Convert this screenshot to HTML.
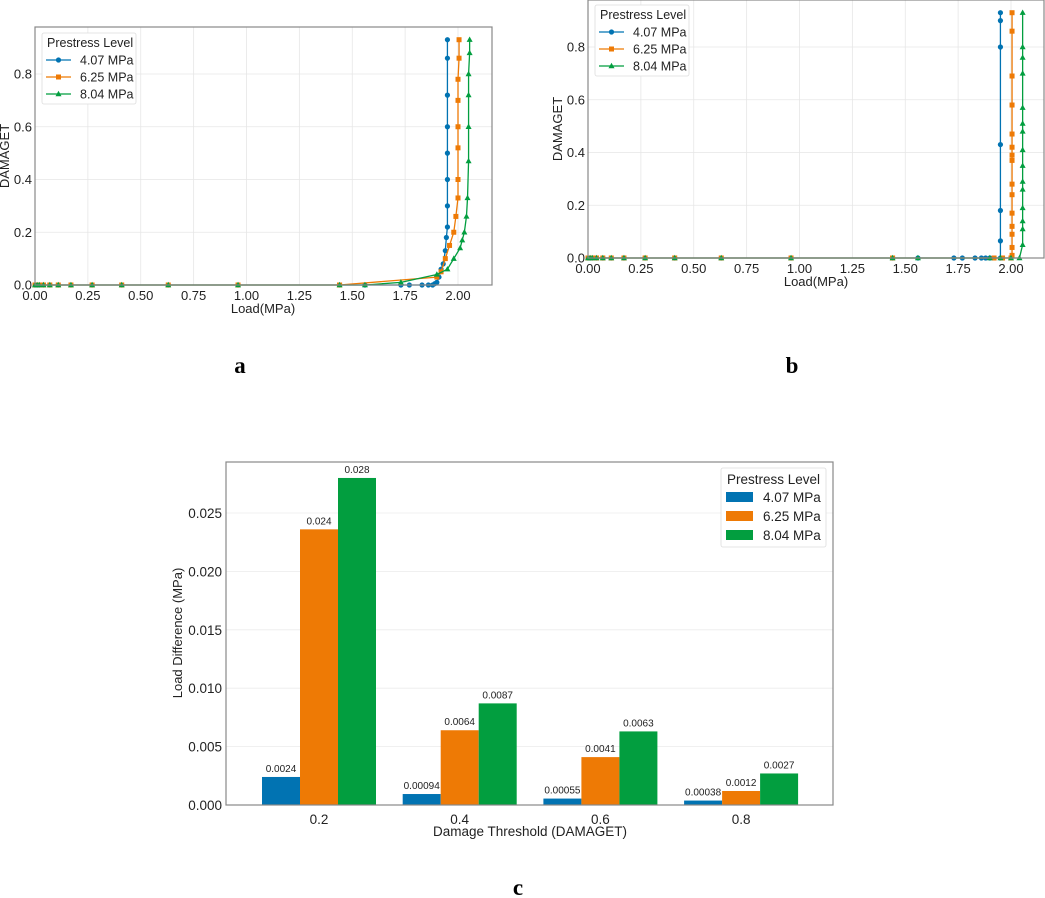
<!DOCTYPE html>
<html><head><meta charset="utf-8"><style>
body{margin:0;background:#fff;width:1045px;height:898px;overflow:hidden}
svg{position:absolute;left:0;top:0}
text{font-family:"Liberation Sans",sans-serif;fill:#222}
.cap{font-family:"Liberation Serif",serif;font-weight:bold;font-size:23px;fill:#000}
</style></head><body>
<svg id="fig" width="1045" height="898">
<text class="cap" x="240" y="373" text-anchor="middle">a</text>
<text class="cap" x="792" y="373" text-anchor="middle">b</text>
<text class="cap" x="518" y="895" text-anchor="middle">c</text>
</svg>
<script>
const seriesNames=["4.07 MPa","6.25 MPa","8.04 MPa"];
const colors=["#0173b2","#ee7a05","#029e3f"];
const zeroX=[0,0.01,0.02,0.04,0.07,0.11,0.17,0.27,0.41,0.63,0.96,1.44];
// panel a
const aBlueX=[1.56,1.73,1.77,1.83,1.86,1.88,1.89,1.90,1.91,1.92,1.93,1.94,1.945,1.95,1.95,1.95,1.95,1.95,1.95,1.95,1.95];
const aBlueY=[0,0,0,0,0,0,0.005,0.01,0.03,0.06,0.08,0.13,0.18,0.22,0.3,0.4,0.5,0.6,0.72,0.86,0.93];
const aOrangeX=[1.44,1.90,1.92,1.94,1.96,1.98,1.99,2.0,2.0,2.0,2.0,2.0,2.0,2.005,2.005];
const aOrangeY=[0,0.03,0.05,0.1,0.15,0.2,0.26,0.33,0.4,0.52,0.6,0.7,0.78,0.86,0.93];
const aGreenX=[1.56,1.73,1.90,1.95,1.98,2.01,2.02,2.03,2.04,2.045,2.05,2.05,2.05,2.05,2.055,2.055];
const aGreenY=[0,0.01,0.04,0.06,0.1,0.14,0.17,0.2,0.26,0.33,0.47,0.6,0.72,0.8,0.88,0.93];
// panel b
const bBlueX=[1.56,1.73,1.77,1.83,1.86,1.88,1.90,1.95,1.95,1.95,1.95,1.95,1.95,1.95];
const bBlueY=[0,0,0,0,0,0,0,0,0.065,0.18,0.43,0.8,0.9,0.93];
const bOrangeX=[1.44,1.92,1.96,2.0,2.005,2.005,2.005,2.005,2.005,2.005,2.005,2.005,2.005,2.005,2.005,2.005,2.005,2.005,2.005];
const bOrangeY=[0,0,0,0,0.01,0.04,0.09,0.12,0.17,0.24,0.28,0.37,0.39,0.42,0.47,0.58,0.69,0.86,0.93];
const bGreenX=[1.56,1.9,1.95,2.0,2.04,2.055,2.055,2.055,2.055,2.055,2.055,2.055,2.055,2.055,2.055,2.055,2.055,2.055,2.055,2.055];
const bGreenY=[0,0,0,0,0,0.05,0.11,0.14,0.19,0.26,0.29,0.35,0.41,0.48,0.51,0.57,0.7,0.76,0.8,0.93];
const xTicks=[0,0.25,0.5,0.75,1.0,1.25,1.5,1.75,2.0];
const yTicks=[0,0.2,0.4,0.6,0.8];
// panel c
const cCats=["0.2","0.4","0.6","0.8"];
const c407=[0.0024,0.00094,0.00055,0.00038];
const c625=[0.0236,0.0064,0.0041,0.0012];
const c804=[0.0280,0.0087,0.0063,0.0027];
const cLabels407=["0.0024","0.00094","0.00055","0.00038"];
const cLabels625=["0.024","0.0064","0.0041","0.0012"];
const cLabels804=["0.028","0.0087","0.0063","0.0027"];
const cYTicks=[0,0.005,0.010,0.015,0.020,0.025];

const NS="http://www.w3.org/2000/svg";
const fig=document.getElementById('fig');
function mk(tag,attrs,parent,txt){const e=document.createElementNS(NS,tag);for(const k in attrs)e.setAttribute(k,attrs[k]);if(txt!==undefined)e.textContent=txt;(parent||fig).appendChild(e);return e;}
function marker(g,shape,x,y,c){
  if(shape===0){const m=mk('circle',{cx:x,cy:y,r:2.6,fill:c},g);}
  else if(shape===1){const m=mk('rect',{x:x-2.5,y:y-2.5,width:5,height:5,fill:c},g);}
  else{const m=mk('polygon',{points:`${x},${y-3.2} ${x-3},${y+2.2} ${x+3},${y+2.2}`,fill:c},g);}
}
function linePanel(id,L,T,R,B,xs,ys,leg,ylab,xlab){
  const g=mk('g',{});
  
  
  const x0=L,xs1=(458-35)/2.0,y0=B,ys1=(285-74)/0.8;
  const X=v=>x0+v*xs1, Y=v=>y0-v*ys1;
  xTicks.forEach(t=>{const l=mk('line',{x1:X(t),x2:X(t),y1:T,y2:B,stroke:'#e6e6e6','stroke-width':0.8},g);
    const tx=mk('text',{x:X(t),y:B+15,'font-size':13,'text-anchor':'middle'},g,t.toFixed(2));});
  yTicks.forEach(t=>{const l=mk('line',{x1:L,x2:R,y1:Y(t),y2:Y(t),stroke:'#e6e6e6','stroke-width':0.8},g);
    const tx=mk('text',{x:L-3,y:Y(t)+4.5,'font-size':13,'text-anchor':'end'},g,t.toFixed(1));});
  for(let s=0;s<3;s++){
    const px=zeroX.concat(xs[s]), py=zeroX.map(()=>0).concat(ys[s]);
    const pts=px.map((v,i)=>X(v)+','+Y(py[i])).join(' ');
    const pl=mk('polyline',{points:pts,fill:'none',stroke:colors[s],'stroke-width':1.3},g);
    
    
    px.forEach((v,i)=>marker(g,s,X(v),Y(py[i]),colors[s]));
  }
  const fr=mk('rect',{x:L,y:T,width:R-L,height:B-T,fill:'none',stroke:'#888','stroke-width':1.2},g);
  
  const yl=mk('text',{x:0,y:0,'font-size':13,'text-anchor':'middle',transform:`translate(${ylab[0]},${ylab[1]}) rotate(-90)`},g,'DAMAGET');
  
  const xl=mk('text',{x:xlab[0],y:xlab[1],'font-size':13,'text-anchor':'middle'},g,'Load(MPa)');
  
  const lg=mk('g',{},g);
  mk('rect',{x:leg[0],y:leg[1],width:94,height:71,fill:'#fff',stroke:'#ddd','stroke-width':0.8,rx:2},lg);
  const tt=mk('text',{x:leg[0]+5,y:leg[1]+14,'font-size':12.5},lg,'Prestress Level');
  for(let s=0;s<3;s++){const yy=leg[1]+27+s*17;
    mk('line',{x1:leg[0]+4,x2:leg[0]+29,y1:yy,y2:yy,stroke:colors[s],'stroke-width':1.3},lg);
    marker(lg,s,leg[0]+16.5,yy,colors[s]);
    const et=mk('text',{x:leg[0]+38,y:yy+4.5,'font-size':12.5},lg,seriesNames[s]);}
}
linePanel('panel-a-chart',35,27,492,285,[aBlueX,aOrangeX,aGreenX],[aBlueY,aOrangeY,aGreenY],[42,33],[9,156],[263,313]);
linePanel('panel-b-chart',588,0,1044,258,[bBlueX,bOrangeX,bGreenX],[bBlueY,bOrangeY,bGreenY],[595,5],[562,129],[816,286]);

// panel c bars
(function(){
  const g=mk('g',{});
  const L=226,R=833,T=462,B=805;
  const Y=v=>B-v*(805-513)/0.025;
  const X=i=>319+i*140.7;
  const bw=38;
  cYTicks.forEach(t=>{const l=mk('line',{x1:L,x2:R,y1:Y(t),y2:Y(t),stroke:'#ececec','stroke-width':0.8},g);
    const tx=mk('text',{x:L-4,y:Y(t)+5,'font-size':13.5,'text-anchor':'end'},g,t.toFixed(3));});
  const vals=[c407,c625,c804],labs=[cLabels407,cLabels625,cLabels804];
  cCats.forEach((c,i)=>{
    for(let s=0;s<3;s++){
      const xx=X(i)+(s-1)*bw-bw/2;
      const r=mk('rect',{x:xx,y:Y(vals[s][i]),width:bw,height:B-Y(vals[s][i]),fill:colors[s]},g);
      
      const t=mk('text',{x:xx+bw/2,y:Y(vals[s][i])-5,'font-size':10,'text-anchor':'middle'},g,labs[s][i]);
      
    }
    const tx=mk('text',{x:X(i),y:B+19,'font-size':13.5,'text-anchor':'middle'},g,c);
  });
  const fr=mk('rect',{x:L,y:T,width:R-L,height:B-T,fill:'none',stroke:'#888','stroke-width':1.2},g);
  const yl=mk('text',{x:0,y:0,'font-size':13,'text-anchor':'middle',transform:'translate(182,633) rotate(-90)'},g,'Load Difference (MPa)');
  const xl=mk('text',{x:530,y:836,'font-size':13.5,'text-anchor':'middle'},g,'Damage Threshold (DAMAGET)');
  const lg=mk('g',{},g);
  mk('rect',{x:721,y:468,width:105,height:79,fill:'#fff',stroke:'#ddd','stroke-width':0.8,rx:2},lg);
  const tt=mk('text',{x:727,y:484,'font-size':13.5},lg,'Prestress Level');
  for(let s=0;s<3;s++){const yy=497+s*19;
    mk('rect',{x:726,y:yy-5,width:27,height:10,fill:colors[s]},lg);
    const et=mk('text',{x:763,y:yy+5,'font-size':13.5},lg,seriesNames[s]);}
})();
</script>
</body></html>
